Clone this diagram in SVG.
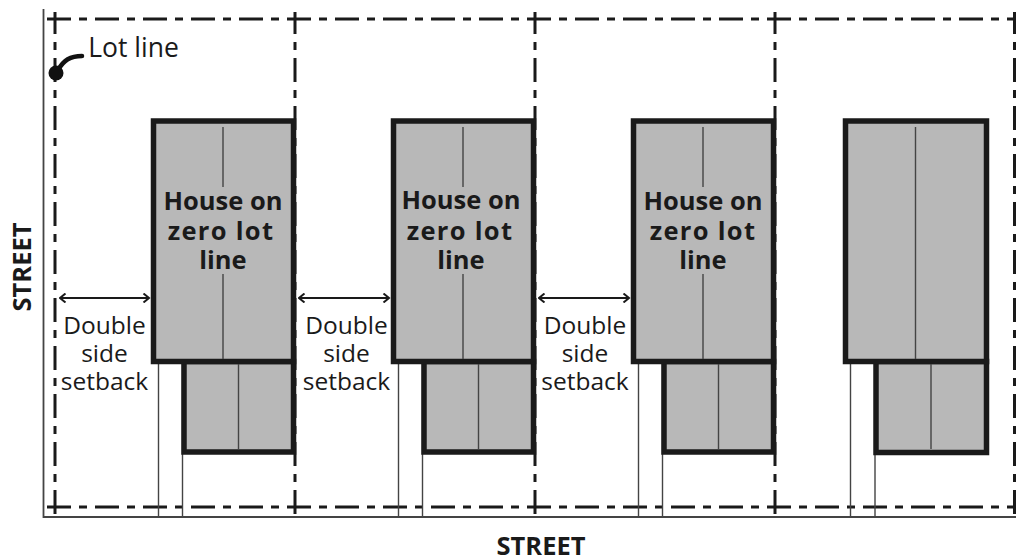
<svg xmlns="http://www.w3.org/2000/svg" width="1016" height="558" viewBox="0 0 1016 558">
<defs>
<marker id="a" viewBox="0 0 10 10" refX="8.5" refY="5" markerWidth="10" markerHeight="10" markerUnits="userSpaceOnUse" orient="auto-start-reverse"><path d="M3 .5 8.500 5 3 9.500" fill="none" stroke="#1a1a1a" stroke-width="2"/></marker>
<g id="h"><rect x="184" y="361.5" width="109.5" height="90.5" class="b"/><rect x="153.5" y="121" width="140" height="240.5" class="b"/></g>
</defs>
<style>
.b{fill:#b8b8b8;stroke:#1a1a1a;stroke-width:5.5}
.t{fill:none;stroke:#444;stroke-width:1.4}
.l{fill:none;stroke:#1a1a1a;stroke-width:3;stroke-dasharray:24 8 8 8}
.v{stroke-dashoffset:2}
.r{font:24.5px "Open Sans","Noto Sans",sans-serif;fill:#1a1a1a;text-anchor:middle}
.o{font:bold 25.5px "Open Sans","Noto Sans",sans-serif;fill:#1a1a1a;text-anchor:middle}
.z{letter-spacing:1.3px}
.s{font:bold 25.5px "Open Sans","Noto Sans",sans-serif;fill:#1a1a1a;text-anchor:middle}
.x{fill:none;stroke:#1a1a1a;stroke-width:2.2}
</style>
<g id="connectors">
<path d="M43.5 9V517H1016" class="t" style="stroke-width:1.8"/>
<path d="M47 19H1016M47 507H1016" class="l"/>
<path d="M55 12V514M295 12V514M535 12V514M775 12V514M1014.500 12V514" class="l v"/>
<path d="M158.500 363V517M182.500 363V517M398.500 363V517M422.500 363V517M638.500 363V517M662.500 363V517M850.500 363V517M875 363V517" class="t"/>
<path d="M82 56C70 56 64 60 58 70" fill="none" stroke="#111" stroke-width="4.500" stroke-linecap="round"/>
<circle cx="56" cy="73" r="7.500" fill="#111"/>
</g>
<g id="house1"><use href="#h"/><path d="M223 127V187M223 274V359M238.500 364V449" class="t"/><text class="o" x="223" y="210">House on</text><text class="o z" x="221" y="240">zero lot</text><text class="o" x="223" y="269">line</text></g>
<g id="house2"><use href="#h" x="240"/><path d="M463 127V187M463 274V359M478.500 364V449" class="t"/><text class="o" x="461" y="209">House on</text><text class="o z" x="460" y="240">zero lot</text><text class="o" x="461" y="269">line</text></g>
<g id="house3"><use href="#h" x="480"/><path d="M703 127V187M703 274V359M718.500 364V449" class="t"/><text class="o" x="703" y="210">House on</text><text class="o z" x="703" y="240">zero lot</text><text class="o" x="703" y="269">line</text></g>
<g id="house4"><rect x="876" y="361.500" width="110.500" height="91" class="b"/><rect x="845.500" y="121" width="141" height="240.500" class="b"/><path d="M915.500 127V359M931 364V449" class="t"/></g>
<g id="arrows">
<path d="M60 298H149" class="x" marker-start="url(#a)" marker-end="url(#a)"/>
<path d="M299 298H389" class="x" marker-start="url(#a)" marker-end="url(#a)"/>
<path d="M539 298H629" class="x" marker-start="url(#a)" marker-end="url(#a)"/>
</g>
<g id="labels">
<text class="r" x="133.500" y="57" style="font-size:26.500px">Lot line</text>
<text class="r" x="104.500" y="334">Double</text><text class="r" x="104.500" y="362">side</text><text class="r" x="104.500" y="390">setback</text>
<text class="r" x="346.500" y="334">Double</text><text class="r" x="346.500" y="362">side</text><text class="r" x="346.500" y="390">setback</text>
<text class="r" x="585" y="334">Double</text><text class="r" x="585" y="362">side</text><text class="r" x="585" y="390">setback</text>
<text class="s" x="541" y="555">STREET</text>
<text class="s" transform="translate(31 267) rotate(-90)">STREET</text>
</g>
</svg>
